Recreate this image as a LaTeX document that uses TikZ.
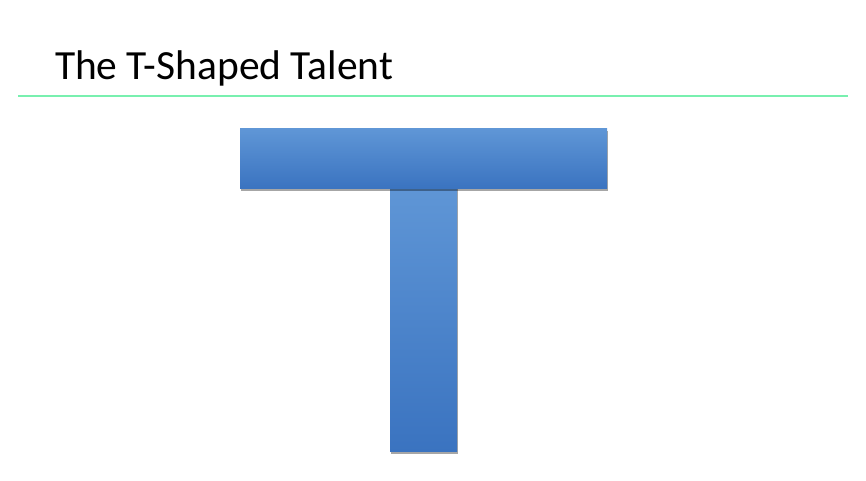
\documentclass[tikz,border=0pt]{standalone}
\usepackage{fontspec}
\setmainfont{Carlito}
\usetikzlibrary{shadows}
\definecolor{barTop}{RGB}{95,150,214}
\definecolor{barBottom}{RGB}{58,115,192}
\definecolor{ruleGreen}{RGB}{120,240,175}
\begin{document}
\begin{tikzpicture}[
      every node/.style={inner sep=0pt, outer sep=0pt},
      barra/.style={top color=barTop, bottom color=barBottom, anchor=south west,
        drop shadow={shadow xshift=0.3pt, shadow yshift=-1.2pt, opacity=0.35, fill=black}}
    ]
    \useasboundingbox (0,0) rectangle (17.32,9.62);
    \node[anchor=base west, font=\fontsize{23.6}{28}\selectfont] (titulo) at (1.1,8.02) {The T-Shaped Talent};
    \coordinate (lineaIzq) at (0.36,7.7);
    \coordinate (lineaDer) at (16.96,7.7);
    \draw[ruleGreen, line width=1.2pt] (lineaIzq) -- (lineaDer);
    \node[barra, minimum width=1.34cm, minimum height=5.3cm] (tallo) at (7.8,0.58) {};
    \node[barra, minimum width=7.34cm, minimum height=1.2cm] (barraSup) at (4.8,5.84) {};
  \end{tikzpicture}
\end{document}
